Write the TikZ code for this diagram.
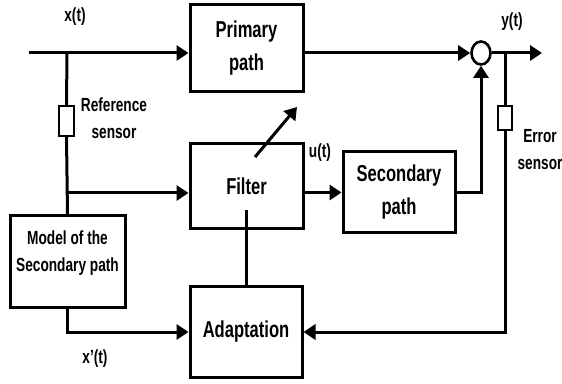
\documentclass[tikz,border=0pt]{standalone}
\usepackage{fontspec}
\setmainfont[FakeStretch=0.72]{Liberation Sans}
\usetikzlibrary{arrows.meta,shapes.geometric}
\begin{document}
\begin{tikzpicture}[x=1pt,y=1pt,line width=3pt,>={Triangle[length=12pt,width=15pt]},
    box/.style={draw,minimum width=113pt,align=center,font=\bfseries\fontsize{23}{33}\selectfont},
    sensor/.style={draw,line width=2.2pt,minimum width=15pt,minimum height=30pt,inner sep=0pt},
    lbl/.style={align=center,font=\bfseries\fontsize{19}{27}\selectfont}]
      \useasboundingbox (0,0) rectangle (562,383);
      % ブロック
      \node[box,minimum height=87pt] (primary) at (246.5,334.5) {Primary\\path};
      \node[box,minimum height=85pt] (filter) at (246.5,196.5) {Filter};
      \node[box,minimum width=112pt,minimum height=81pt] (secondary) at (399,190.5) {Secondary\\path};
      \node[box,minimum width=112pt,minimum height=90pt] (adapt) at (246,51) {Adaptation};
      \node[box,minimum width=115pt,minimum height=91pt] (model) at (67.5,121.5) {};
      \node[lbl] (modeltxt) at (67.5,130) {Model of the\\Secondary path};
      \node[draw,ellipse,minimum width=19pt,minimum height=23pt,inner sep=0pt,line width=2.6pt] (sum) at (481,330) {};
      \node[sensor] (refsens) at (66.5,262) {}; %参照センサ
      \node[sensor,minimum width=14pt,minimum height=24pt] (errsens) at (505,265) {}; %誤差センサ
      % ラベル
      \node[lbl] (xlab) at (75,366) {x(t)};
      \node[lbl] (ylab) at (512,361.5) {y(t)};
      \node[lbl] (ulab) at (320,230) {u(t)};
      \node[lbl] (xdlab) at (95,24) {x'(t)};
      \node[lbl] (reflab) at (114,264.5) {Reference\\sensor};
      \node[lbl] (errlab) at (540,233) {Error\\sensor};
      % 分岐点
      \coordinate (in) at (29,330);
      \coordinate (xb) at (67,330);
      \coordinate (fb) at (67,190);
      \coordinate (yb) at (505,330);
      \coordinate (out) at (542,330);
      \coordinate (adj1) at (255,226);
      \coordinate (adj2) at (297,276);
      % 信号線
      \draw[->] (in) -- (in -| primary.west);
      \draw (xb) -- (refsens.north);
      \draw (refsens.south) -- (model.north);
      \draw[->] (fb) -- (fb -| filter.west);
      \draw[->] (model.south) |- (adapt.west);
      \draw[->] (primary.east |- sum.west) -- (sum.west);
      \draw[->] (sum.east) -- (out);
      \draw (yb) -- (errsens.north);
      \draw[->] (errsens.south) |- (adapt.east);
      \draw[->] (secondary.west -| filter.east) -- (secondary.west);
      \draw[->] (secondary.east) -| (sum.south);
      \draw (adapt.north) -- ++(0,75);
      \draw[->] (adj1) -- (adj2);
    \end{tikzpicture}
\end{document}
